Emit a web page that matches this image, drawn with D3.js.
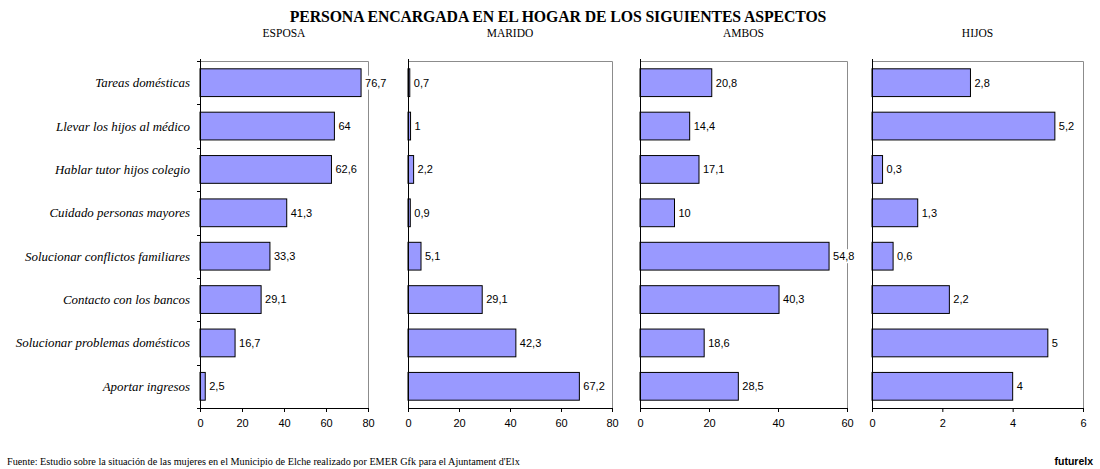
<!DOCTYPE html>
<html>
<head>
<meta charset="utf-8">
<script src="https://cdn.jsdelivr.net/npm/d3@7"></script>
<style>
  html, body { margin: 0; padding: 0; background: #fff; }
  svg { display: block; }
</style>
</head>
<body>
<svg id="chart" width="1100" height="469"></svg>
<script>
// Household tasks: who takes care of each one (percent)
const categories = [
  "Tareas domésticas",
  "Llevar los hijos al médico",
  "Hablar tutor hijos colegio",
  "Cuidado personas mayores",
  "Solucionar conflictos familiares",
  "Contacto con los bancos",
  "Solucionar problemas domésticos",
  "Aportar ingresos"
];
const panelNames = ["ESPOSA", "MARIDO", "AMBOS", "HIJOS"];
const esposa = [76.7, 64, 62.6, 41.3, 33.3, 29.1, 16.7, 2.5];
const marido = [0.7, 1, 2.2, 0.9, 5.1, 29.1, 42.3, 67.2];
const ambos  = [20.8, 14.4, 17.1, 10, 54.8, 40.3, 18.6, 28.5];
const hijos  = [2.8, 5.2, 0.3, 1.3, 0.6, 2.2, 5, 4];
const seriesValues = [esposa, marido, ambos, hijos];
const axisMax = [80, 80, 60, 6];
const tickValues = [
  [0, 20, 40, 60, 80],
  [0, 20, 40, 60, 80],
  [0, 20, 40, 60],
  [0, 2, 4, 6]
];

const titleText = "PERSONA ENCARGADA EN EL HOGAR DE LOS SIGUIENTES ASPECTOS";
const sourceText = "Fuente: Estudio sobre la situación de las mujeres en el Municipio de Elche realizado por EMER Gfk para el Ajuntament d'Elx";
const brandText = "futurelx";

// layout
const panelX = [[200, 368], [408, 612], [640, 847], [872, 1083]];
const plotTop = 61, plotBottom = 408;
const barFill = "#9999ff";
const serif = "'Liberation Serif', 'Times New Roman', serif";
const sans = "'Liberation Sans', Arial, sans-serif";

const svg = d3.select("#chart");

svg.append("text")
  .attr("x", 558).attr("y", 22)
  .attr("text-anchor", "middle")
  .attr("font-family", serif)
  .attr("font-weight", "bold")
  .attr("font-size", 15.8)
  .attr("letter-spacing", -0.1)
  .text(titleText);

const y = d3.scaleBand()
  .domain(categories)
  .range([plotTop, plotBottom])
  .paddingInner(0.36)
  .paddingOuter(0.18);

const fmt = v => String(v).replace(".", ",");

seriesValues.forEach((vals, i) => {
  const [x0, x1] = panelX[i];
  const x = d3.scaleLinear().domain([0, axisMax[i]]).range([x0, x1]);
  const g = svg.append("g");

  // panel heading
  g.append("text")
    .attr("x", (x0 + x1) / 2).attr("y", 37)
    .attr("text-anchor", "middle")
    .attr("font-family", serif)
    .attr("font-size", 11.5)
    .text(panelNames[i]);

  // frame: grey top and right edges
  g.append("path")
    .attr("d", `M${x0},${plotTop + 0.5}H${x1 + 0.5}V${plotBottom}`)
    .attr("fill", "none")
    .attr("stroke", "#8c8c8c")
    .attr("stroke-width", 1);

  // bars
  g.selectAll("rect.bar")
    .data(vals)
    .join("rect")
    .attr("class", "bar")
    .attr("x", x0)
    .attr("y", (d, j) => y(categories[j]))
    .attr("width", d => x(d) - x0)
    .attr("height", y.bandwidth())
    .attr("fill", barFill)
    .attr("stroke", "#000")
    .attr("stroke-width", 1);

  // value labels
  const lab = g.selectAll("g.lab")
    .data(vals)
    .join("g")
    .attr("class", "lab")
    .attr("transform", (d, j) => `translate(${x(d) + 2},${y(categories[j]) + y.bandwidth() / 2})`);
  lab.append("rect")
    .attr("x", 0).attr("y", -7)
    .attr("width", d => fmt(d).length * 6.2 + 3)
    .attr("height", 14)
    .attr("fill", "#fff");
  lab.append("text")
    .attr("x", 2).attr("dy", "0.35em")
    .attr("font-family", sans)
    .attr("font-size", 11)
    .attr("fill", "#000")
    .text(d => fmt(d));

  // bottom value axis
  const xAxis = g.append("g")
    .attr("transform", `translate(0,${plotBottom})`)
    .call(d3.axisBottom(x).tickValues(tickValues[i]).tickSize(4).tickPadding(7).tickFormat(d3.format("d")));
  xAxis.select(".domain").attr("d", `M${x0},0.5H${x1 + 0.5}`).attr("stroke", "#000");
  xAxis.selectAll("text")
    .attr("font-family", sans)
    .attr("font-size", 11)
    .attr("fill", "#000");

  // left category axis
  const leftAxis = g.append("g");
  leftAxis.append("line")
    .attr("x1", x0 + 0.5).attr("x2", x0 + 0.5)
    .attr("y1", plotTop - 2).attr("y2", plotBottom + 4)
    .attr("stroke", "#000");
  if (i === 0) {
    const bounds = categories.map(c => y(c) - y.step() * y.paddingInner() / 2);
    bounds.push(plotBottom);
    bounds[0] = plotTop;
    leftAxis.selectAll("line.tk")
      .data(bounds)
      .join("line")
      .attr("class", "tk")
      .attr("x1", x0 - 3).attr("x2", x0)
      .attr("y1", d => Math.round(d) + 0.5).attr("y2", d => Math.round(d) + 0.5)
      .attr("stroke", "#000");
    leftAxis.selectAll("text")
      .data(categories)
      .join("text")
      .attr("x", x0 - 10)
      .attr("y", c => y(c) + y.bandwidth() / 2)
      .attr("dy", "0.35em")
      .attr("text-anchor", "end")
      .attr("font-family", serif)
      .attr("font-style", "italic")
      .attr("font-size", 12.9)
      .text(c => c);
  }
});

svg.append("text")
  .attr("x", 7).attr("y", 465)
  .attr("font-family", serif)
  .attr("font-size", 10.2)
  .text(sourceText);

svg.append("text")
  .attr("x", 1093).attr("y", 465)
  .attr("text-anchor", "end")
  .attr("font-family", sans)
  .attr("font-weight", "bold")
  .attr("font-size", 10.5)
  .text(brandText);
</script>
</body>
</html>
